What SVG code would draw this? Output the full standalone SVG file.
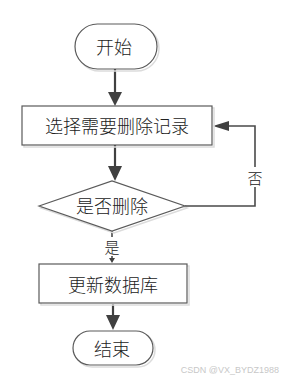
<svg xmlns="http://www.w3.org/2000/svg" width="283" height="384" viewBox="0 0 283 384">
<defs>
<style>
.sh{fill:none;stroke:#dcdcdc;stroke-width:1.5}
.nd{fill:#fff;stroke:#5a5a5a;stroke-width:1.2}
.tx{font-family:"Noto Sans CJK SC","Liberation Sans",sans-serif;font-size:18px;font-weight:300;fill:#222;text-anchor:middle;dominant-baseline:central}
.lb{font-family:"Noto Sans CJK SC","Liberation Sans",sans-serif;font-size:15px;font-weight:300;fill:#222;text-anchor:middle;dominant-baseline:central}
.ln{fill:none;stroke:#404040;stroke-width:2.2}
.ln2{fill:none;stroke:#4a4a4a;stroke-width:1.6}
.ah{fill:#404040}
</style>
</defs>
<rect width="283" height="384" fill="#fff"/>
<g id="connectors">
<line class="ln" x1="115" y1="69" x2="115" y2="93"/>
<polygon class="ah" points="108,92 122,92 115,106"/>
<line class="ln" x1="115" y1="145" x2="115" y2="167"/>
<polygon class="ah" points="108,166 122,166 115,181"/>
<polyline class="ln2" points="185,206 255,206 255,126 227,126"/>
<polygon class="ah" points="229,121 229,131 213,126"/>
<rect x="246" y="167" width="18" height="20" fill="#fff"/>
<text class="lb" x="255" y="177">否</text>
<line class="ln2" x1="112" y1="231" x2="112" y2="258"/>
<rect x="103" y="237" width="18" height="19" fill="#fff"/>
<text class="lb" x="112" y="246">是</text>
<polygon class="ah" points="109,258 115,258 112,263"/>
<line class="ln" x1="113" y1="304" x2="113" y2="316"/>
<polygon class="ah" points="106,315 120,315 113,330"/>
</g>
<g id="start">
<rect class="sh" x="77" y="26" width="82" height="45" rx="22.5"/>
<rect class="nd" x="75" y="24" width="82" height="45" rx="22.5"/>
<text class="tx" x="114" y="46">开始</text>
</g>
<g id="select">
<rect class="sh" x="24" y="108" width="190" height="39"/>
<rect class="nd" x="22" y="106" width="190" height="39"/>
<text class="tx" x="117" y="125">选择需要删除记录</text>
</g>
<g id="decide">
<polygon class="sh" points="41,208 114,183 187,208 114,233"/>
<polygon class="nd" points="39,206 112,181 185,206 112,231"/>
<text class="tx" x="112" y="205">是否删除</text>
</g>
<g id="update">
<rect class="sh" x="41" y="266" width="148" height="39"/>
<rect class="nd" x="39" y="264" width="148" height="39"/>
<text class="tx" x="113" y="284">更新数据库</text>
</g>
<g id="end">
<rect class="sh" x="75" y="333" width="80" height="34" rx="17"/>
<rect class="nd" x="73" y="331" width="80" height="34" rx="17"/>
<text class="tx" x="112" y="348">结束</text>
</g>
<text x="279" y="373" font-family="'Liberation Sans',sans-serif" font-size="9" fill="#c8c8c8" text-anchor="end">CSDN @VX_BYDZ1988</text>
</svg>
